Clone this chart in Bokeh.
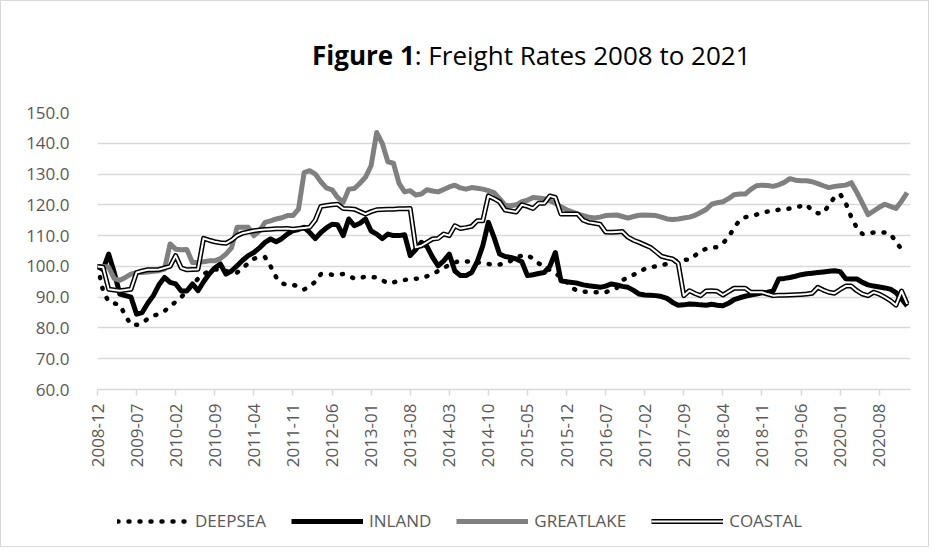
from bokeh.plotting import figure
from bokeh.models import (Range1d, FixedTicker, NumeralTickFormatter, Legend, LegendItem, Div)
from bokeh.layouts import column
from bokeh.embed import file_html
from bokeh.resources import INLINE
import math

NAN = float("nan")

TITLE_BOLD = "Figure 1"
TITLE_REST = ": Freight Rates 2008 to 2021"

TICK_LABELS = ["2008-12", "2009-07", "2010-02", "2010-09", "2011-04", "2011-11", "2012-06",
               "2013-01", "2013-08", "2014-03", "2014-10", "2015-05", "2015-12", "2016-07",
               "2017-02", "2017-09", "2018-04", "2018-11", "2019-06", "2020-01", "2020-08"]
TICK_STEP = 7  # months between labelled ticks

DEEPSEA = [100, 92, 88.5, 88, 87.5, 84, 81, 81, 81.5, 83,
           84, 84.5, 85.5, 87, 88.5, 90, 92, 94, 96, 97.5,
           98.5, 99, 99, 98.5, 98, 98, 99.5, 101, 102.5, 103,
           103, 100, 96.5, 94.5, 94, 94, 93.5, 92.5, 93.5, 95,
           97.5, 97.5, 97.3, 97.4, 97.5, 97, 96, 96.3, 96.6, 96.5,
           96.4, 95.5, 94.5, 94.8, 95.3, 95.6, 95.9, 96, 96.1, 96.8,
           97.5, 98.5, 99.5, 100.5, 101.3, 101.8, 101.6, 101.5, 101.3, 101.1,
           100.8, 100.5, 100.6, 101, 101.8, 103, 103.5, 103.7, 102.5, 101,
           100, 98.8, 97.8, 96.5, 95, 93, 92, 91.8, 91.7, 91.6,
           91.6, 91.6, 92.3, 93, 95.5, 96.5, 97.3, 98, 99.2, 99.8,
           100, 100.4, 100.8, 101.5, 102, 102.2, 102.1, 103.5, 105, 105.7,
           106, 106.3, 107.5, 109.5, 112.5, 115, 116, 116.3, 116.8, 117.5,
           117.8, 118.1, 118.4, 118.6, 118.8, 119.2, 119.6, 120.1, 118, 117.3,
           117.3, 120, 122.5, 123.5, 120.6, 116, 112.5, 110.5, 110.8, 111,
           111, 111, 110.6, 108, 105.5, NAN]

INLAND = [100, 99, 104, 98, 91, 90.5, 90, 84.5, 85, 88,
          90.5, 94, 96.4, 94.8, 94.3, 92, 92, 94.3, 92.1, 95,
          97.5, 99.5, 100.8, 97.5, 98.5, 100.2, 102, 103.5, 104.5, 106,
          107.8, 108.9, 108, 109, 110.5, 111.6, 112, 112.7, 111, 109,
          111, 112.5, 113.7, 113.5, 110, 115.4, 113.2, 114, 115.4, 111.5,
          110.5, 109, 110.5, 110, 110, 110.3, 103.5, 105.5, 107.8, 106.5,
          103, 100.2, 101.8, 104, 98.5, 97, 97, 98, 101.5, 106.7,
          114.3, 109.5, 104, 103.2, 102.9, 102.4, 101.5, 97, 97.3, 97.7,
          98, 100, 104.5, 95.3, 95, 94.8, 94.5, 94, 93.7, 93.5,
          93.2, 93.6, 94.3, 94, 93.5, 93.2, 92.2, 91, 90.7, 90.6,
          90.5, 90.2, 89.6, 88.3, 87.4, 87.5, 87.8, 87.7, 87.5, 87.4,
          87.7, 87.4, 87.2, 88, 89.2, 89.8, 90.3, 90.7, 91, 91.4,
          91.6, 92, 95.9, 96.1, 96.4, 96.8, 97.3, 97.6, 97.8, 98,
          98.2, 98.4, 98.6, 98.3, 96, 95.9, 95.9, 94.8, 94, 93.6,
          93.3, 93, 92.6, 91.5, 89.4, 87.2]

GREATLAKE = [100, 100, 99.7, 96, 95.5, 96.4, 97.5, 98, 98, 98.2,
             98.4, 98.6, 99.1, 107.3, 105.6, 105.4, 105.5, 101.3, 101.3, 101.5,
             101.8, 101.8, 102.5, 104, 106, 112.7, 112.7, 112.7, 110, 111.5,
             114.3, 114.8, 115.4, 115.8, 116.5, 116.5, 118.6, 130.5, 131.1, 130,
             127.5, 125.5, 124.9, 122.4, 120.8, 125.1, 125.3, 127, 129, 132.7,
             143.5, 140, 134, 133.5, 127, 124.2, 124.6, 123.2, 123.5, 124.9,
             124.5, 124.2, 125, 125.8, 126.4, 125.5, 125.1, 125.6, 125.4, 125.1,
             124.6, 124, 122, 119.9, 119.7, 120, 121, 121.5, 122.4, 122.2,
             122, 121.3, 120.5, 119.4, 118.4, 117.7, 117, 116.5, 116, 115.7,
             116, 116.5, 116.6, 116.7, 116.2, 115.7, 116.2, 116.6, 116.7, 116.6,
             116.5, 116, 115.4, 115.2, 115.4, 115.7, 116, 116.6, 117.5, 118.5,
             120.2, 120.7, 121, 122, 123.3, 123.5, 123.5, 125, 126.2, 126.4,
             126.3, 126, 126.5, 127.3, 128.5, 128, 127.8, 127.8, 127.5, 126.9,
             126.2, 125.6, 126, 126.2, 126.4, 127.2, 124, 120.5, 116.8, 118,
             119.2, 120.2, 119.5, 118.8, 121.2, 124]

COASTAL = [100, 99.7, 92.6, 92.3, 92.1, 92.3, 92.6, 98, 98.5, 98.9,
           98.9, 99, 99.5, 100, 103.5, 99.5, 98.9, 99, 99.1, 109.1,
           108.5, 108, 107.7, 107.5, 108.5, 110, 110.8, 111.2, 111.6, 111.8,
           112, 112.1, 112.2, 112.2, 112.3, 112.1, 112.3, 112.5, 112.7, 115,
           119.5, 119.8, 120, 120.2, 118.8, 118.7, 118.6, 117.8, 117, 117.8,
           118.4, 118.5, 118.6, 118.6, 118.7, 118.7, 118.8, 106.2, 106.7, 107.8,
           108.9, 109.1, 110.5, 110, 113.2, 112.3, 112.6, 113, 114.8, 114.8,
           122.9, 122, 121, 118.3, 118, 117.7, 120, 119.5, 118.8, 120.5,
           120.5, 122.9, 122.4, 117, 117, 117, 117, 115, 114.3, 114,
           113.7, 111.2, 111.1, 111.2, 111.3, 109.5, 108.5, 107.8, 107, 106.2,
           104.8, 103.3, 102.8, 102.4, 101, 90.5, 92.1, 91.2, 90.5, 92,
           92.1, 91.9, 90.7, 91.8, 92.9, 92.9, 92.9, 91.6, 91.6, 91.6,
           91, 90.5, 90.6, 90.6, 90.7, 90.8, 90.9, 91, 91.3, 93.2,
           92.3, 91.6, 91.3, 92.5, 93.6, 93.6, 92.1, 91, 90.5, 91.6,
           91, 90, 88.9, 87.4, 92, 87.8]

Y_MIN, Y_MAX, Y_STEP = 60, 150, 10

months = list(range(len(INLAND)))

FONT = "Open Sans"
GRID = "#d9d9d9"
TXT = "#595959"

STYLES = {
    "DEEPSEA": dict(line_color="black", line_width=4.5, line_dash="1 10", line_cap="round"),
    "INLAND": dict(line_color="black", line_width=5, line_join="round"),
    "GREATLAKE": dict(line_color="#808080", line_width=5, line_join="round"),
    "COASTAL_OUT": dict(line_color="black", line_width=5, line_join="round"),
    "COASTAL_IN": dict(line_color="white", line_width=2, line_join="round"),
}

p = figure(width=917, height=421, output_backend="svg", toolbar_location=None,
           title=None, x_range=Range1d(0, len(INLAND) - 0.4), y_range=Range1d(Y_MIN, Y_MAX),
           min_border_left=96, min_border_right=8, min_border_top=36, min_border_bottom=108)
p.outline_line_color = None
p.background_fill_color = "white"
p.border_fill_color = "white"

# axes
p.xaxis.ticker = FixedTicker(ticks=[i * TICK_STEP for i in range(len(TICK_LABELS))])
p.xaxis.major_label_overrides = {i * TICK_STEP: lab for i, lab in enumerate(TICK_LABELS)}
p.xaxis.major_label_orientation = math.pi / 2
p.xaxis.axis_line_color = GRID
p.xaxis.axis_line_width = 1.5
p.xaxis.major_tick_line_color = GRID
p.xaxis.major_tick_line_width = 1.5
p.xaxis.major_tick_out = 6
p.xaxis.major_tick_in = 0
p.xaxis.minor_tick_line_color = None
p.xaxis.major_label_standoff = 8

p.yaxis.ticker = FixedTicker(ticks=list(range(Y_MIN, Y_MAX + 1, Y_STEP)))
p.yaxis.formatter = NumeralTickFormatter(format="0.0")
p.yaxis.axis_line_color = None
p.yaxis.major_tick_line_color = None
p.yaxis.minor_tick_line_color = None
p.yaxis.major_label_standoff = 22

for ax in (p.xaxis, p.yaxis):
    ax.major_label_text_font = FONT
    ax.major_label_text_font_size = "17px"
    ax.major_label_text_color = TXT

p.xgrid.grid_line_color = None
p.ygrid.grid_line_color = GRID
p.ygrid.grid_line_width = 1.5
p.ygrid.ticker = FixedTicker(ticks=list(range(Y_MIN + Y_STEP, Y_MAX + 1, Y_STEP)))

# series
p.line(months, DEEPSEA, **STYLES["DEEPSEA"])
p.line(months, INLAND, **STYLES["INLAND"])
p.line(months, GREATLAKE, **STYLES["GREATLAKE"])
p.line(months, COASTAL, **STYLES["COASTAL_OUT"])
p.line(months, COASTAL, **STYLES["COASTAL_IN"])

# legend in its own strip below the chart (renderers hold a single empty point
# so that the legend swatches get their styles, but draw nothing themselves)
lg = figure(width=917, height=49, output_backend="svg", toolbar_location=None, title=None,
            x_axis_type=None, y_axis_type=None, x_range=Range1d(0, 1), y_range=Range1d(0, 1),
            min_border=0)
lg.outline_line_color = None
lg.grid.visible = False
l_deep = lg.line([NAN], [NAN], **STYLES["DEEPSEA"])
l_inl = lg.line([NAN], [NAN], **STYLES["INLAND"])
l_gl = lg.line([NAN], [NAN], **STYLES["GREATLAKE"])
l_co1 = lg.line([NAN], [NAN], **STYLES["COASTAL_OUT"])
l_co2 = lg.line([NAN], [NAN], **STYLES["COASTAL_IN"])
legend = Legend(items=[LegendItem(label="DEEPSEA", renderers=[l_deep]),
                       LegendItem(label="INLAND", renderers=[l_inl]),
                       LegendItem(label="GREATLAKE", renderers=[l_gl]),
                       LegendItem(label="COASTAL", renderers=[l_co1, l_co2])],
                orientation="horizontal", location=(20, 14),
                label_text_font=FONT, label_text_font_size="17px", label_text_color=TXT,
                glyph_width=72, glyph_height=20, spacing=25, label_standoff=6,
                padding=0, margin=0, border_line_alpha=0, background_fill_alpha=0)
lg.add_layout(legend, "center")

title = Div(text=(f'<div style="padding-left:306px; padding-top:34px; line-height:30px; '
                  f'font-family:\'Open Sans\'; font-size:26px; color:black; white-space:nowrap;">'
                  f'<b>{TITLE_BOLD}</b>{TITLE_REST}</div>'),
            width=917, height=65)

layout = column(title, p, lg, spacing=0,
                styles={"border": "1px solid #d9d9d9", "background-color": "white"})

open("out.html", "w").write(file_html(layout, INLINE))
